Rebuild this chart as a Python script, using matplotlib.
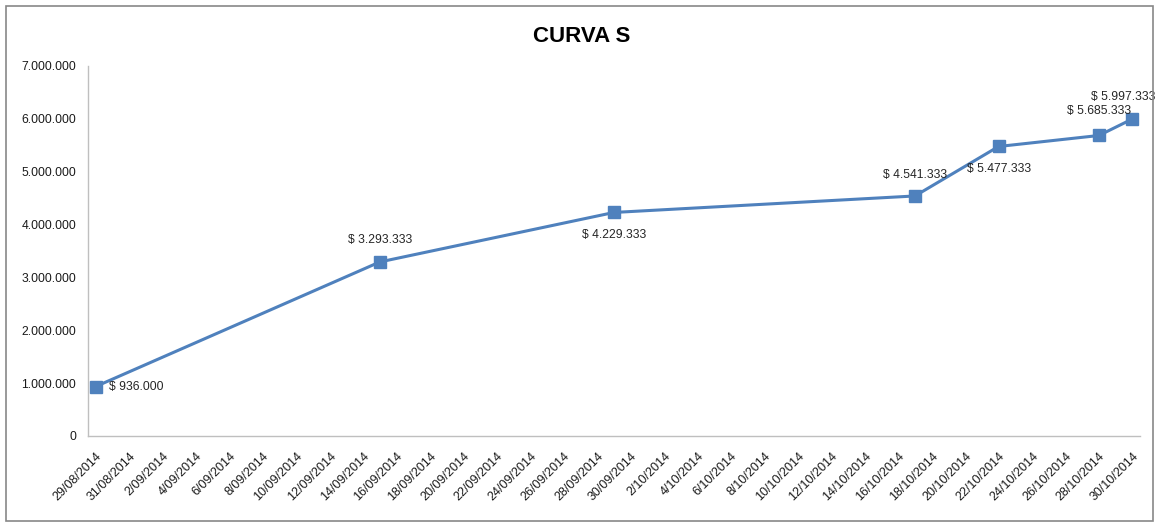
import numpy as np
import matplotlib
matplotlib.use("Agg")
import matplotlib.pyplot as plt
import matplotlib.dates as mdates
import pandas as pd
from matplotlib.patches import Rectangle

matplotlib.rc('font', family=['Liberation Sans', 'DejaVu Sans'], size=8.5)

# data
fechas = ['2014-08-29', '2014-09-15', '2014-09-29', '2014-10-17',
          '2014-10-22', '2014-10-28', '2014-10-30']
valores = [936000, 3293333, 4229333, 4541333, 5477333, 5685333, 5997333]
# where each data label sits relative to its marker (pixels)
label_offsets = [(13, 0, 'left'), (0, 22, 'center'), (0, -23, 'center'),
                 (0, 21, 'center'), (0, -23, 'center'), (0, 24, 'center'),
                 (-9, 22, 'center')]

x = pd.to_datetime(fechas)
ticks = pd.date_range('2014-08-29', '2014-10-30', freq='2D')

fig = plt.figure(figsize=(11.63, 5.23), dpi=100)
ax = fig.add_axes([88 / 1163, 1 - 436 / 523, (1140 - 88) / 1163, (436 - 66) / 523])

azul = '#4F81BD'
ax.plot(x, valores, color=azul, lw=2.2, marker='s', markersize=8.5,
        markerfacecolor=azul, markeredgecolor=azul, zorder=3)

def pesos(v):
    return '$ ' + f"{v:,.0f}".replace(',', '.')

for xi, v, (dx, dy, ha) in zip(x, valores, label_offsets):
    ax.annotate(pesos(v), (mdates.date2num(xi), v), xytext=(dx, dy),
                textcoords='offset pixels', ha=ha, va='center',
                fontsize=8.7, color='#262626', annotation_clip=False)

ax.set_ylim(0, 7000000)
ax.set_yticks(np.arange(0, 7000001, 1000000))
ax.set_yticklabels([f"{v:,.0f}".replace(',', '.') for v in ax.get_yticks()])

pad = pd.Timedelta(hours=11)
ax.set_xlim(ticks[0] - pad, ticks[-1] + pad)
ax.set_xticks(ticks)
ax.set_xticklabels([f"{d.day}/{d.month:02d}/{d.year}" for d in ticks],
                   rotation=45, ha='right', rotation_mode='anchor')

for s in ['top', 'right']:
    ax.spines[s].set_visible(False)
for s in ['left', 'bottom']:
    ax.spines[s].set_color('#BFBFBF')
    ax.spines[s].set_linewidth(1)
ax.tick_params(axis='both', length=0, colors='#1a1a1a')
ax.tick_params(axis='x', pad=10, labelsize=9)
ax.tick_params(axis='y', pad=8.5, labelsize=8.7)

fig.text(0.5, 1 - 36 / 523, 'CURVA S', ha='center', va='center',
         fontsize=16, fontweight='bold',
         family=['Liberation Sans Narrow', 'Liberation Sans'])

# chart border
fig.patches.append(Rectangle((6 / 1163, 2 / 523), (1153 - 6) / 1163, (517 - 2) / 523,
                             transform=fig.transFigure, fill=False,
                             edgecolor='#878787', lw=1.2))

fig.savefig('out.png', dpi=100)
